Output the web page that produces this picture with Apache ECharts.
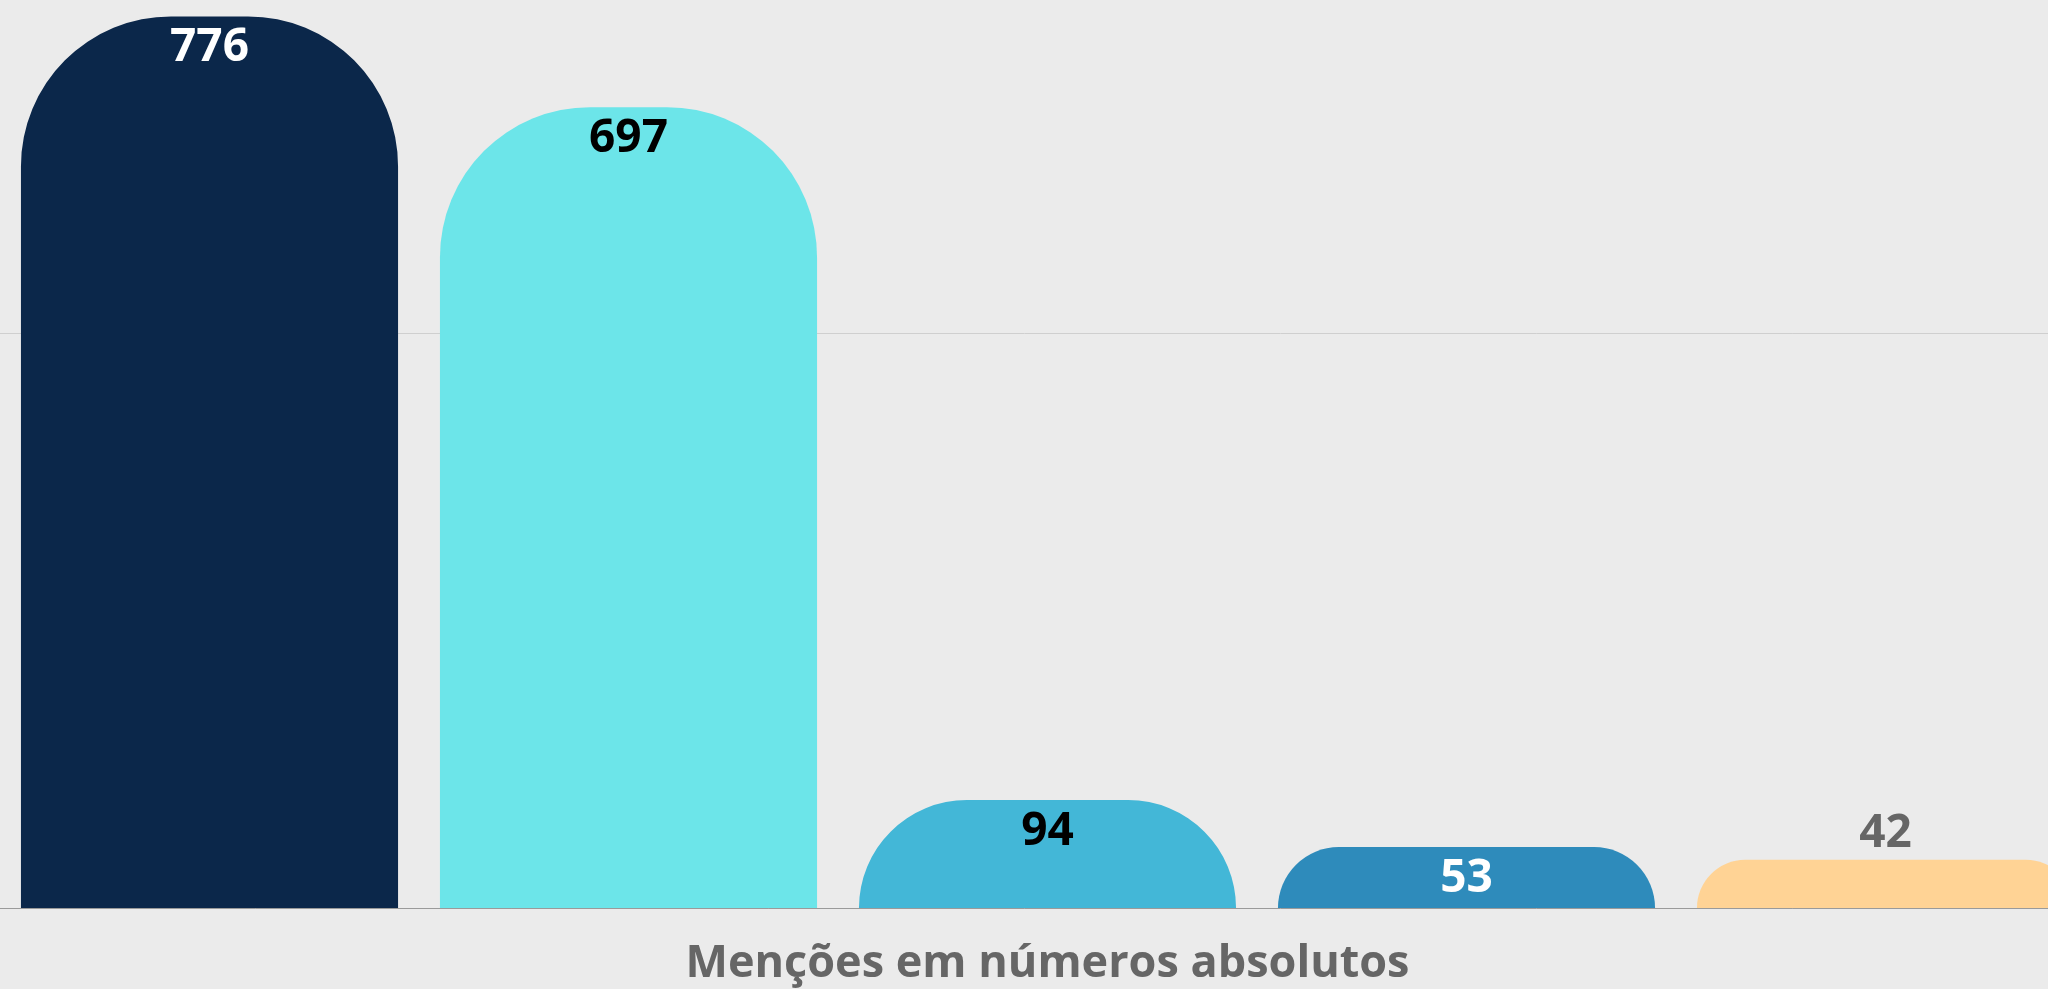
<!DOCTYPE html>
<html>
<head>
<meta charset="utf-8">
<script src="https://cdn.jsdelivr.net/npm/echarts@6/dist/echarts.min.js"></script>
<style>
  html, body { margin: 0; padding: 0; background: #ebebeb; }
  #chart { width: 2048px; height: 989px; }
</style>
</head>
<body>
<div id="chart"></div>
<script>
// dados
const categorias = ['A', 'B', 'C', 'D', 'E'];
const mencoes = [776, 697, 94, 53, 42];
const cores = ['#0B274A', '#6CE5E9', '#43B7D7', '#2E8BBB', '#FFD395'];
const corRotulo = ['#ffffff', '#000000', '#000000', '#ffffff', '#666666'];
const tituloEixo = 'Menções em números absolutos';

const chart = echarts.init(document.getElementById('chart'));

const option = {
    backgroundColor: '#ebebeb',
    grid: {
        left: 0,
        top: -241,
        width: 2095,
        height: 1149,
        outerBoundsMode: 'none',
        containLabel: false
    },
    xAxis: {
        type: 'category',
        data: categorias,
        name: tituloEixo,
        nameLocation: 'middle',
        nameGap: 34,
        nameTextStyle: {
            fontFamily: 'Open Sans',
            fontWeight: 'bold',
            fontSize: 45,
            color: '#666666',
            verticalAlign: 'top'
        },
        axisLine: { show: true, lineStyle: { color: '#9a9a9a', width: 1 } },
        axisTick: { show: false },
        axisLabel: { show: false }
    },
    yAxis: {
        type: 'value',
        min: 0,
        max: 1000,
        interval: 500,
        axisLine: { show: false },
        axisLabel: { show: false },
        axisTick: { show: false },
        splitLine: { lineStyle: { color: '#cfcfcf', width: 1 } }
    },
    series: [
        {
            type: 'bar',
            barWidth: '90%',
            data: mencoes.map((v, i) => {
                let fora = i === 4
                return {
                    value: v,
                    itemStyle: { color: cores[i], borderRadius: [150, 150, 0, 0] },
                    label: {
                        show: true,
                        position: fora ? 'top' : 'insideTop',
                        distance: fora ? 3 : 9,
                        color: corRotulo[i],
                        fontFamily: 'Open Sans',
                        fontWeight: 'bold',
                        fontSize: 46
                    }
                }
            })
        }
    ]
};

chart.setOption(option);
</script>
</body>
</html>
